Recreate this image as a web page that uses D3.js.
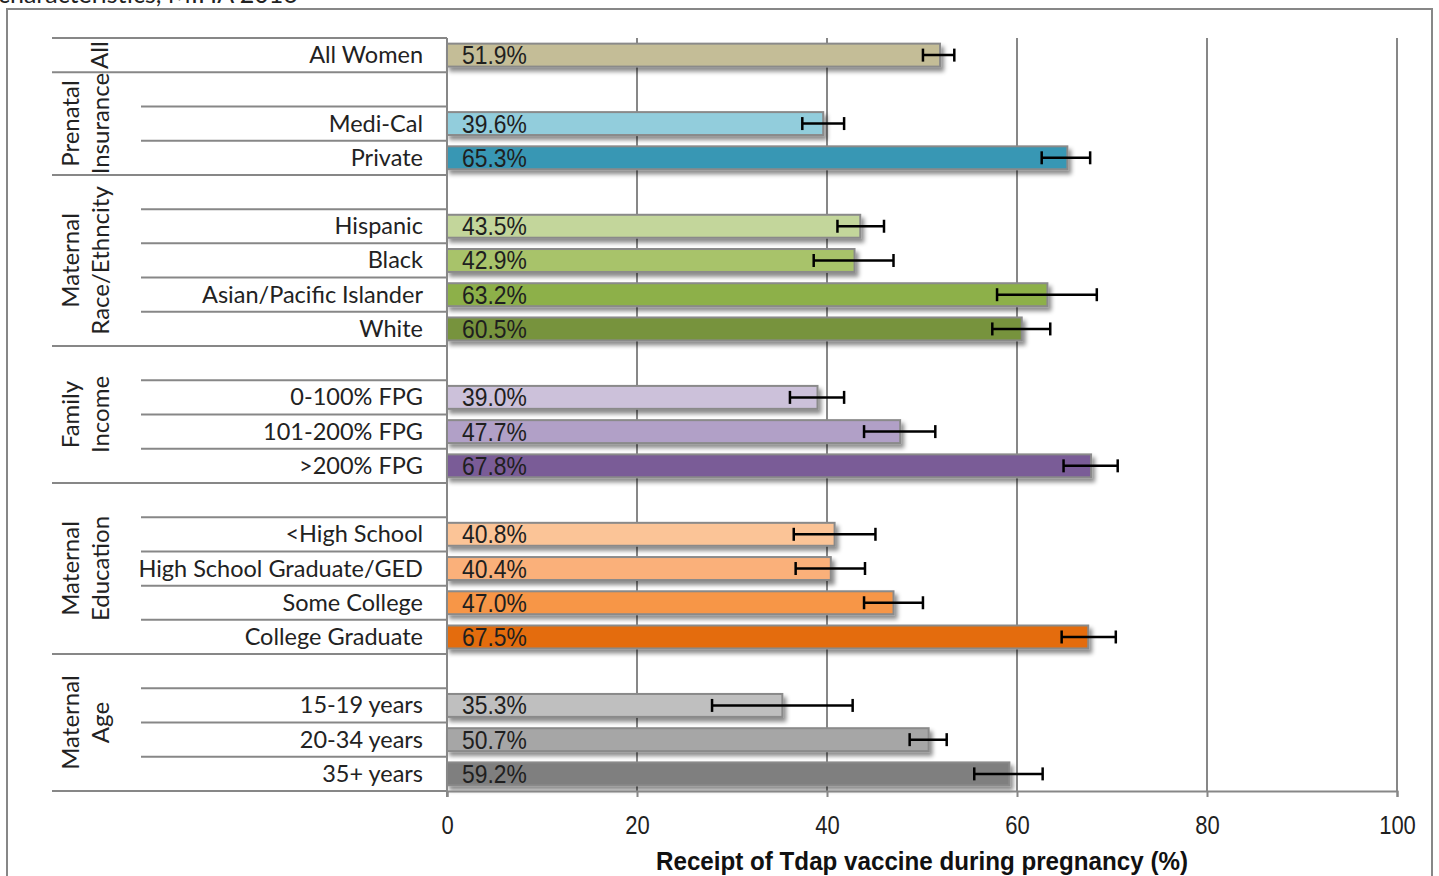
<!DOCTYPE html>
<html>
<head>
<meta charset="utf-8">
<script src="https://cdn.jsdelivr.net/npm/d3@7"></script>
<style>
  html, body { margin: 0; padding: 0; background: #fff; }
  svg { display: block; }
</style>
</head>
<body>
<svg id="chart" width="1439" height="876"></svg>
<script>
// ---------- data ----------
const groupLabels = [["All"], ["Prenatal", "Insurance"], ["Maternal", "Race/Ethncity"], ["Family", "Income"], ["Maternal", "Education"], ["Maternal", "Age"]];
const categories = ["All Women", "Medi-Cal", "Private", "Hispanic", "Black", "Asian/Pacific Islander", "White",
  "0-100% FPG", "101-200% FPG", ">200% FPG", "<High School", "High School Graduate/GED", "Some College",
  "College Graduate", "15-19 years", "20-34 years", "35+ years"];
const categoryGroup = [0, 1, 1, 2, 2, 2, 2, 3, 3, 3, 4, 4, 4, 4, 5, 5, 5];
const values = [51.9, 39.6, 65.3, 43.5, 42.9, 63.2, 60.5, 39.0, 47.7, 67.8, 40.8, 40.4, 47.0, 67.5, 35.3, 50.7, 59.2];
const ciLow  = [50.1, 37.4, 62.6, 41.1, 38.6, 57.9, 57.4, 36.1, 43.9, 64.9, 36.5, 36.7, 43.9, 64.7, 27.9, 48.7, 55.5];
const ciHigh = [53.4, 41.8, 67.7, 46.0, 47.0, 68.4, 63.5, 41.8, 51.4, 70.6, 45.1, 44.0, 50.1, 70.4, 42.7, 52.6, 62.7];
const barColors = ["#c4bd97", "#92cddc", "#3797b4", "#c3d69b", "#a8c36a", "#8db04a", "#77933c",
  "#ccc1da", "#b1a0c7", "#7a5c97", "#fbc497", "#fab07a", "#f79646", "#e46c0a", "#bfbfbf", "#a6a6a6", "#7f7f7f"];
const xTicks = [0, 20, 40, 60, 80, 100];
const xTitle = "Receipt of Tdap vaccine during pregnancy (%)";
const topText = "characteristics, MIHA 2016";

// ---------- layout ----------
const svg = d3.select("#chart");
const plotLeft = 447, plotRight = 1397, plotTop = 38, plotBottom = 791;
const lineColor = "#878787";
const labelFont = "Lato, 'Open Sans', sans-serif";
const narrowFont = "'Liberation Sans', Arial, sans-serif";

// rows: blank row before every group except the first
const rows = [];
groupLabels.forEach((g, gi) => {
  if (gi > 0) rows.push({ key: "blank" + gi, group: gi, idx: -1 });
  categories.forEach((c, ci) => { if (categoryGroup[ci] === gi) rows.push({ key: "c" + ci, group: gi, idx: ci }); });
});

const y = d3.scaleBand().domain(rows.map(r => r.key)).range([plotTop, plotBottom]).paddingInner(0.33).paddingOuter(0.165);
const step = y.step();
const rowTop = k => y(k) - step * 0.165;
const x = d3.scaleLinear().domain([0, 100]).range([plotLeft, plotRight]);

// defs: shadow
const defs = svg.append("defs");
const f = defs.append("filter").attr("id", "shadow").attr("x", "-5%").attr("y", "-30%").attr("width", "115%").attr("height", "180%");
f.append("feDropShadow").attr("dx", 3).attr("dy", 4).attr("stdDeviation", 2.2).attr("flood-color", "#000").attr("flood-opacity", 0.45);

// outer frame
svg.append("rect").attr("x", 7).attr("y", 9).attr("width", 1425).attr("height", 900)
  .attr("fill", "none").attr("stroke", lineColor).attr("stroke-width", 2);

// cut-off title text at top (cut in the reference too)
svg.append("text").attr("x", -2).attr("y", 3).attr("font-family", labelFont).attr("font-size", 25)
  .attr("fill", "#222").text(topText);

// gridlines
svg.append("g").selectAll("line").data(xTicks.filter(t => t > 0)).join("line")
  .attr("x1", d => x(d)).attr("x2", d => x(d)).attr("y1", plotTop).attr("y2", plotBottom)
  .attr("stroke", lineColor).attr("stroke-width", 2);

// category boundary lines
const gLines = svg.append("g");
rows.forEach((r, i) => {
  const isGroupStart = i === 0 || rows[i - 1].group !== r.group;
  gLines.append("line").attr("x1", isGroupStart ? 52 : 141).attr("x2", plotLeft)
    .attr("y1", rowTop(r.key)).attr("y2", rowTop(r.key))
    .attr("stroke", lineColor).attr("stroke-width", 2);
});
gLines.append("line").attr("x1", 52).attr("x2", plotLeft).attr("y1", plotBottom).attr("y2", plotBottom)
  .attr("stroke", lineColor).attr("stroke-width", 2);

// bars
const dataRows = rows.filter(r => r.idx >= 0);
svg.append("g").selectAll("rect").data(dataRows).join("rect")
  .attr("x", x(0)).attr("y", d => y(d.key)).attr("height", y.bandwidth())
  .attr("width", d => x(values[d.idx]) - x(0))
  .attr("fill", d => barColors[d.idx]).attr("stroke", "#8a8a8a").attr("stroke-width", 2)
  .attr("filter", "url(#shadow)");

// value labels (condensed)
svg.append("g").selectAll("text").data(dataRows).join("text")
  .attr("transform", d => `translate(462,${y(d.key) + y.bandwidth() / 2 + 9}) scale(0.88,1)`)
  .attr("font-family", narrowFont).attr("font-size", 26).attr("fill", "#1f1f1f")
  .text(d => values[d.idx].toFixed(1) + "%");

// error bars
const eb = svg.append("g").attr("stroke", "#000").attr("stroke-width", 2.5);
dataRows.forEach(d => {
  const cy = y(d.key) + y.bandwidth() / 2;
  eb.append("line").attr("x1", x(ciLow[d.idx])).attr("x2", x(ciHigh[d.idx])).attr("y1", cy).attr("y2", cy);
  [ciLow[d.idx], ciHigh[d.idx]].forEach(v => {
    eb.append("line").attr("x1", x(v)).attr("x2", x(v)).attr("y1", cy - 6.5).attr("y2", cy + 6.5);
  });
});

// category labels
svg.append("g").selectAll("text").data(dataRows).join("text")
  .attr("x", 423).attr("y", d => y(d.key) + y.bandwidth() / 2 + 8)
  .attr("text-anchor", "end").attr("font-family", labelFont).attr("font-size", 23.5).attr("fill", "#222")
  .text(d => categories[d.idx]);

// group labels (rotated)
groupLabels.forEach((lines, gi) => {
  const gr = rows.filter(r => r.group === gi);
  const top = rowTop(gr[0].key), bottom = rowTop(gr[gr.length - 1].key) + step;
  const cy = (top + bottom) / 2;
  const xs = lines.length === 1 ? [100] : [71, 101];
  lines.forEach((t, li) => {
    svg.append("text").attr("transform", `translate(${xs[li]},${cy}) rotate(-90)`)
      .attr("text-anchor", "middle").attr("dy", "0.35em")
      .attr("font-family", labelFont).attr("font-size", 24).attr("fill", "#222").text(t);
  });
});

// x axis
const xAxis = svg.append("g").attr("transform", `translate(0,${plotBottom})`)
  .call(d3.axisBottom(x).tickValues(xTicks).tickSize(6).tickPadding(19));
xAxis.select(".domain").attr("stroke", lineColor).attr("stroke-width", 2);
xAxis.selectAll(".tick line").attr("stroke", lineColor).attr("stroke-width", 2);
xAxis.selectAll(".tick text").attr("font-family", narrowFont).attr("font-size", 25).attr("fill", "#1f1f1f")
  .attr("transform", "scale(0.88,1)").attr("x", 0)
  .each(function() {
    // keep centred on tick after horizontal squeeze
    d3.select(this).attr("transform", "scale(0.88,1)");
  });

// y axis line
svg.append("line").attr("x1", plotLeft).attr("x2", plotLeft).attr("y1", plotTop).attr("y2", plotBottom + 6)
  .attr("stroke", lineColor).attr("stroke-width", 2);

// x axis title (condensed bold)
svg.append("text").attr("x", (plotLeft + plotRight) / 2).attr("y", 870).attr("text-anchor", "middle")
  .attr("font-family", narrowFont).attr("font-weight", "bold").attr("font-size", 26).attr("fill", "#111")
  .attr("textLength", 532).attr("lengthAdjust", "spacingAndGlyphs")
  .text(xTitle);
</script>
</body>
</html>
